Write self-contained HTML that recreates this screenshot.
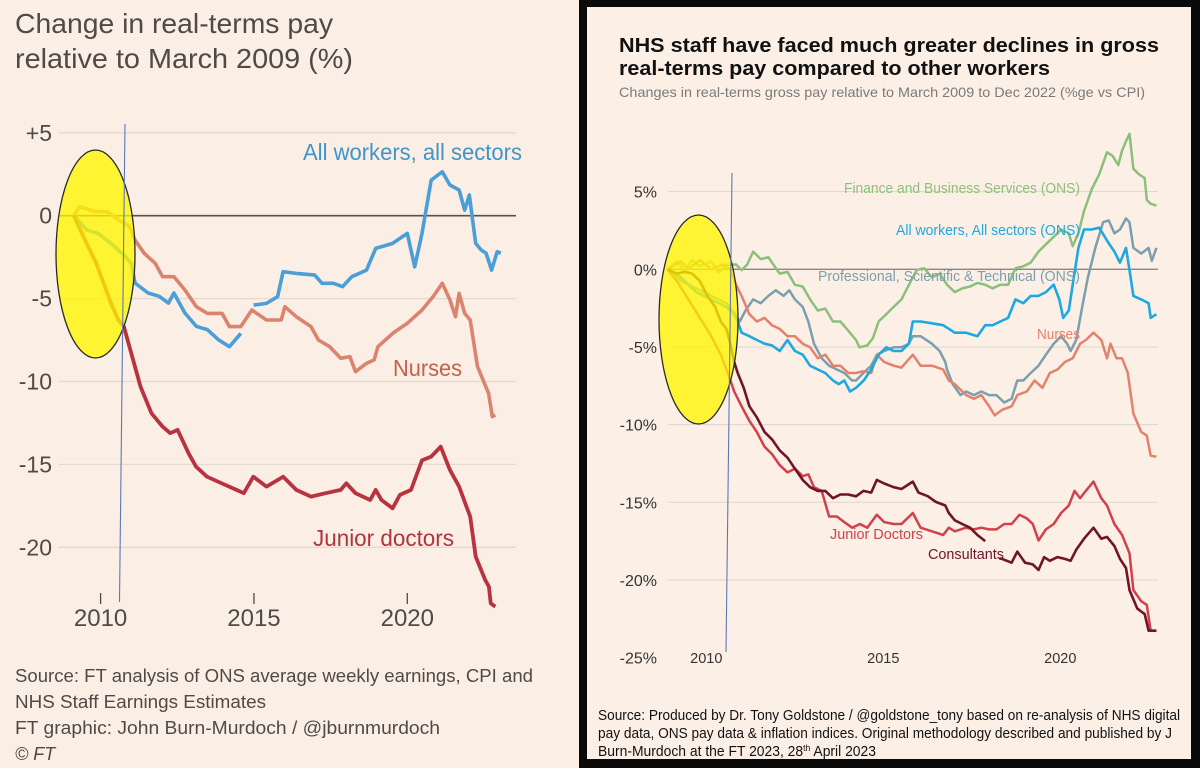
<!DOCTYPE html>
<html><head><meta charset="utf-8"><style>html,body{margin:0;padding:0;background:#fbefe5}svg{display:block}</style></head>
<body>
<svg id="svg" width="1200" height="768" viewBox="0 0 1200 768" xmlns="http://www.w3.org/2000/svg">
<rect x="0" y="0" width="580" height="768" fill="#fbefe5"/>
<rect x="579" y="0" width="621" height="768" fill="#0a0a0a"/>
<rect x="587" y="7" width="604" height="752" fill="#fcf0e6"/>
<g font-family="'Liberation Sans', sans-serif" fill="#4f4a47">
<text x="15" y="33" font-size="28" textLength="318" lengthAdjust="spacingAndGlyphs">Change in real-terms pay</text>
<text x="15" y="68" font-size="28" textLength="338" lengthAdjust="spacingAndGlyphs">relative to March 2009 (%)</text>
</g>
<g font-family="'Liberation Sans', sans-serif" fill="#111">
<text x="619" y="52" font-size="20" font-weight="bold" textLength="540" lengthAdjust="spacingAndGlyphs">NHS staff have faced much greater declines in gross</text>
<text x="619" y="75" font-size="20" font-weight="bold" textLength="431" lengthAdjust="spacingAndGlyphs">real-terms pay compared to other workers</text>
<text x="619" y="97" font-size="14" fill="#7a7a7a" font-weight="normal" textLength="526" lengthAdjust="spacingAndGlyphs">Changes in real-terms gross pay relative to March 2009 to Dec 2022 (%ge vs CPI)</text>
</g>
<g id="left"></g>
<g id="right"></g>
<g font-family="'Liberation Sans', sans-serif" fill="#4f4a47" font-size="18">
<text x="15" y="682" textLength="518" lengthAdjust="spacingAndGlyphs">Source: FT analysis of ONS average weekly earnings, CPI and</text>
<text x="15" y="708" textLength="251" lengthAdjust="spacingAndGlyphs">NHS Staff Earnings Estimates</text>
<text x="15" y="734" textLength="425" lengthAdjust="spacingAndGlyphs">FT graphic: John Burn-Murdoch / @jburnmurdoch</text>
<text x="15" y="760" font-style="italic">© FT</text>
</g>
<g font-family="'Liberation Sans', sans-serif" fill="#111" font-size="14.5">
<text x="598" y="720" textLength="582" lengthAdjust="spacingAndGlyphs">Source: Produced by Dr. Tony Goldstone / @goldstone_tony based on re-analysis of NHS digital</text>
<text x="598" y="738" textLength="574" lengthAdjust="spacingAndGlyphs">pay data, ONS pay data &amp; inflation indices. Original methodology described and published by J</text>
<text x="598" y="756" textLength="278" lengthAdjust="spacingAndGlyphs">Burn-Murdoch at the FT 2023, 28<tspan font-size="9" dy="-5">th</tspan><tspan dy="5"> April 2023</tspan></text>
</g>
</svg>
<script>
// ---------- LEFT CHART DATA (FT) ----------
const leftTicksY = [5, 0, -5, -10, -15, -20];
const leftTickLabelsY = ["+5", "0", "-5", "-10", "-15", "-20"];
const leftTicksX = [2010, 2015, 2020];
const leftAllYears = [2009.13,2009.55,2009.92,2010.34,2010.82,2011.0,2011.12,2011.55,2011.91,2012.21,2012.39,2012.75,2013.12,2013.48,2013.84,2014.2,2014.57,null,2014.99,2015.41,2015.77,2015.95,2016.38,2016.98,2017.22,2017.59,2017.89,2018.19,2018.67,2018.97,2019.52,2020.0,2020.24,2020.48,2020.78,2021.14,2021.39,2021.69,2021.87,2022.02,2022.23,2022.41,2022.57,2022.75,2022.93,2023.05];
const leftAllValues = [0,-0.86,-1.07,-1.67,-2.47,-2.87,-4.06,-4.66,-4.86,-5.27,-4.66,-5.87,-6.67,-6.87,-7.48,-7.9,-7.1,null,-5.39,-5.29,-4.88,-3.38,-3.48,-3.58,-4.08,-4.08,-4.28,-3.68,-3.28,-1.97,-1.67,-1.07,-3.08,-1.07,2.15,2.65,1.85,1.55,0.34,1.25,-1.67,-2.07,-2.27,-3.28,-2.17,-2.27];
const leftNurseYears = [2009.13,2009.31,2009.86,2010.22,2010.58,2010.94,2011.12,2011.42,2011.78,2012.02,2012.39,2012.75,2013.12,2013.48,2013.96,2014.2,2014.57,2014.93,2015.41,2015.89,2016.01,2016.38,2016.86,2017.1,2017.47,2017.83,2018.13,2018.31,2018.67,2018.92,2019.04,2019.52,2020.0,2020.48,2020.84,2021.14,2021.39,2021.57,2021.69,2021.87,2022.05,2022.29,2022.65,2022.77,2022.87];
const leftNurseValues = [0,0.54,0.24,0.24,-0.26,-0.66,-1.47,-2.27,-2.87,-3.68,-3.68,-4.48,-5.49,-5.89,-5.89,-6.69,-6.69,-5.69,-6.29,-6.29,-5.49,-6.09,-6.69,-7.5,-7.9,-8.6,-8.5,-9.41,-8.9,-8.7,-7.9,-7.1,-6.49,-5.69,-4.88,-4.08,-5.08,-6.09,-4.68,-5.89,-6.29,-9.1,-10.71,-12.12,-12.02];
const leftJdYears = [2009.13,2009.49,2009.86,2010.34,2010.58,2010.76,2011.06,2011.3,2011.66,2012.02,2012.27,2012.51,2012.87,2013.11,2013.47,2013.95,2014.43,2014.67,2014.98,2015.41,2015.95,2016.38,2016.86,2017.34,2017.83,2018.01,2018.31,2018.79,2018.97,2019.16,2019.52,2019.76,2020.12,2020.48,2020.78,2021.09,2021.39,2021.69,2021.93,2022.05,2022.23,2022.54,2022.66,2022.72,2022.87];
const leftJdValues = [0,-1.47,-2.87,-5.29,-6.29,-6.69,-8.7,-10.31,-11.92,-12.72,-13.12,-12.92,-14.33,-15.13,-15.74,-16.14,-16.54,-16.74,-15.74,-16.34,-15.74,-16.54,-16.94,-16.74,-16.54,-16.14,-16.74,-17.15,-16.54,-17.15,-17.65,-16.84,-16.54,-14.75,-14.53,-13.93,-15.33,-16.34,-17.55,-18.15,-20.56,-21.97,-22.37,-23.38,-23.58];

// ---------- RIGHT CHART DATA (Goldstone) ----------
const rightTicksY = [5, 0, -5, -10, -15, -20, -25];
const rightTickLabelsY = ["5%", "0%", "-5%", "-10%", "-15%", "-20%", "-25%"];
const rightTicksX = [2010, 2015, 2020];
const finYears = [2008.9,2009.17,2009.39,2009.6,2009.82,2010.14,2010.36,2010.57,2010.84,2011.0,2011.16,2011.33,2011.54,2011.76,2011.86,2012.08,2012.3,2012.51,2012.73,2012.94,2013.16,2013.37,2013.59,2013.8,2014.02,2014.24,2014.34,2014.56,2014.72,2014.88,2015.1,2015.31,2015.53,2015.74,2015.85,2015.96,2016.17,2016.39,2016.61,2016.82,2017.04,2017.25,2017.47,2017.68,2017.9,2018.11,2018.33,2018.55,2018.76,2018.98,2019.19,2019.41,2019.62,2019.84,2020.05,2020.27,2020.38,2020.54,2020.7,2020.92,2021.13,2021.35,2021.51,2021.67,2021.78,2021.89,2021.99,2022.1,2022.26,2022.42,2022.48,2022.59,2022.75];
const finValues = [0,0.5,-0.1,0.6,0.2,0.5,-0.2,0.3,0.31,-0.05,0.31,1.14,0.66,0.78,0.43,-0.28,-0.17,-1.0,-1.11,-1.94,-2.65,-2.53,-3.36,-3.36,-3.95,-4.55,-5.02,-4.9,-4.43,-3.36,-2.89,-2.42,-1.94,-1.0,-0.52,-0.05,0.07,-0.52,-0.28,-0.99,-1.47,-1.23,-1.11,-0.88,-0.99,-1.23,-0.99,-0.99,0.07,0.19,0.43,1.14,1.61,2.09,2.56,2.32,1.49,2.32,3.74,5.17,6.11,7.54,7.3,6.71,7.65,8.25,8.72,6.47,6.11,5.88,4.46,4.22,4.1];
const allYears = [2008.9,2009.28,2009.71,2010.14,2010.57,2010.79,2010.89,2011.0,2011.22,2011.43,2011.65,2011.86,2012.08,2012.3,2012.51,2012.73,2012.94,2013.16,2013.37,2013.59,2013.75,2013.91,2014.07,2014.24,2014.46,2014.67,2014.88,2015.1,2015.31,2015.53,2015.74,2015.85,2016.07,2016.39,2016.71,2017.04,2017.36,2017.68,2017.9,2018.11,2018.33,2018.55,2018.76,2018.98,2019.19,2019.41,2019.62,2019.84,2020.0,2020.11,2020.27,2020.38,2020.54,2020.7,2020.92,2021.13,2021.35,2021.56,2021.72,2021.89,2021.99,2022.1,2022.32,2022.53,2022.59,2022.75];
const allValues = [0,-0.52,-1.47,-1.94,-2.42,-2.89,-3.36,-4.08,-4.31,-4.55,-4.79,-4.9,-5.26,-4.55,-5.26,-5.5,-6.21,-6.45,-6.68,-7.16,-7.39,-7.16,-7.87,-7.63,-7.16,-6.45,-5.5,-5.02,-5.26,-5.26,-4.79,-3.36,-3.36,-3.48,-3.6,-4.08,-4.08,-4.31,-3.6,-3.6,-3.36,-3.13,-1.94,-2.18,-1.71,-1.71,-1.47,-0.99,-1.94,-3.13,-2.65,-0.99,1.38,2.56,2.56,2.68,1.85,1.14,0.43,1.38,-0.05,-1.71,-1.94,-2.18,-3.13,-2.89];
const pstYears = [2008.9,2009.28,2009.71,2010.14,2010.57,2010.79,2010.95,2011.11,2011.33,2011.54,2011.76,2011.97,2012.19,2012.35,2012.51,2012.73,2012.89,2013.05,2013.27,2013.48,2013.7,2013.91,2014.13,2014.24,2014.45,2014.67,2014.83,2015.04,2015.31,2015.53,2015.74,2015.85,2016.07,2016.39,2016.61,2016.77,2016.82,2016.98,2017.2,2017.36,2017.58,2017.79,2018.01,2018.22,2018.44,2018.65,2018.81,2018.98,2019.19,2019.41,2019.62,2019.84,2020.05,2020.22,2020.32,2020.48,2020.65,2020.81,2021.02,2021.24,2021.4,2021.56,2021.72,2021.89,2021.99,2022.1,2022.32,2022.53,2022.62,2022.75];
const pstValues = [0,-0.76,-1.23,-1.71,-2.18,-2.78,-3.36,-2.65,-1.94,-2.18,-1.71,-1.35,-1.71,-1.35,-1.94,-2.42,-3.36,-4.79,-5.73,-6.21,-6.45,-6.68,-7.16,-7.16,-6.68,-6.21,-5.5,-5.26,-5.02,-5.02,-4.79,-4.31,-4.31,-4.79,-5.26,-5.97,-6.45,-7.39,-8.1,-7.87,-8.1,-7.87,-8.1,-8.1,-8.58,-8.34,-7.16,-7.16,-6.68,-6.21,-5.5,-4.79,-4.31,-4.79,-5.26,-4.55,-2.42,-0.52,1.38,3.03,3.15,2.32,2.56,3.27,3.03,1.38,1.02,1.38,0.55,1.38];
const nurseYears = [2008.9,2009.28,2009.49,2009.82,2010.14,2010.46,2010.68,2010.84,2011.0,2011.22,2011.43,2011.65,2011.86,2012.08,2012.3,2012.51,2012.73,2012.94,2013.16,2013.37,2013.59,2013.8,2014.02,2014.24,2014.45,2014.67,2014.83,2015.04,2015.31,2015.53,2015.85,2016.07,2016.39,2016.71,2016.87,2017.04,2017.36,2017.58,2017.79,2018.01,2018.17,2018.38,2018.65,2018.81,2019.08,2019.3,2019.52,2019.73,2019.95,2020.16,2020.38,2020.59,2020.75,2020.97,2021.19,2021.35,2021.45,2021.62,2021.78,2021.94,2022.1,2022.32,2022.48,2022.59,2022.75];
const nurseValues = [0,0.5,0,0.6,0,0.3,0,-0.99,-1.71,-2.89,-3.36,-3.13,-3.6,-3.84,-4.31,-4.31,-4.79,-5.02,-5.73,-5.5,-6.21,-6.21,-6.68,-6.68,-6.56,-6.68,-5.5,-5.97,-6.21,-6.33,-5.5,-6.21,-6.21,-6.45,-7.16,-7.39,-8.1,-8.34,-8.1,-8.82,-9.41,-9.05,-8.82,-8.1,-7.87,-7.16,-7.63,-6.68,-6.45,-5.97,-5.73,-4.79,-4.55,-4.08,-4.55,-5.73,-4.79,-5.73,-5.73,-6.68,-9.29,-10.47,-10.71,-12.0,-12.07];
const jdYears = [2008.9,2009.17,2009.49,2009.82,2010.14,2010.41,2010.63,2010.79,2011.0,2011.22,2011.43,2011.65,2011.86,2012.08,2012.3,2012.51,2012.73,2012.89,2013.05,2013.27,2013.48,2013.7,2013.91,2014.13,2014.35,2014.56,2014.83,2015.04,2015.31,2015.53,2015.85,2016.07,2016.39,2016.71,2016.87,2017.04,2017.36,2017.58,2017.79,2018.01,2018.22,2018.44,2018.65,2018.87,2019.08,2019.25,2019.41,2019.62,2019.84,2020.05,2020.27,2020.43,2020.59,2020.75,2020.97,2021.19,2021.35,2021.56,2021.78,2021.99,2022.1,2022.32,2022.48,2022.59,2022.75];
const jdValues = [0,-0.76,-1.94,-3.13,-4.31,-5.5,-6.8,-7.87,-8.82,-9.76,-10.47,-11.42,-11.9,-12.61,-13.08,-12.84,-13.32,-13.2,-14.03,-14.27,-15.92,-15.92,-16.28,-16.64,-16.4,-16.64,-15.81,-16.28,-16.4,-16.4,-15.69,-16.64,-16.87,-17.11,-16.64,-16.87,-16.64,-16.75,-16.64,-16.75,-16.75,-16.4,-16.4,-15.81,-16.04,-16.4,-17.46,-16.75,-16.4,-15.69,-15.21,-14.27,-14.74,-14.27,-13.67,-14.74,-15.21,-16.4,-17.11,-18.29,-20.66,-21.37,-21.61,-23.27,-23.27];
const consYears = [2008.9,2009.17,2009.39,2009.6,2009.82,2010.03,2010.25,2010.41,2010.57,2010.68,2010.79,2010.89,2011.06,2011.22,2011.43,2011.65,2011.86,2012.08,2012.3,2012.51,2012.73,2012.94,2013.16,2013.37,2013.59,2013.8,2014.02,2014.24,2014.45,2014.67,2014.83,2015.04,2015.31,2015.53,2015.85,2016.01,2016.28,2016.5,2016.77,2016.87,2017.04,2017.25,2017.47,2017.68,2017.9,null,2018.3,2018.38,2018.65,2018.81,2019.03,2019.25,2019.41,2019.57,2019.73,2019.95,2020.16,2020.32,2020.48,2020.7,2020.97,2021.19,2021.35,2021.56,2021.72,2021.89,2021.99,2022.21,2022.42,2022.53,2022.75];
const consValues = [0,-0.28,-0.17,-0.28,-0.76,-1.71,-2.42,-3.36,-3.84,-4.79,-5.97,-6.68,-7.63,-8.82,-9.53,-10.47,-10.95,-11.66,-12.13,-12.84,-13.56,-14.03,-14.27,-14.27,-14.74,-14.5,-14.5,-14.62,-14.27,-14.38,-13.56,-13.79,-14.03,-14.15,-13.67,-14.38,-14.62,-14.98,-15.21,-15.69,-16.16,-16.4,-16.64,-17.11,-17.5,null,-18.6,-18.65,-18.89,-18.18,-18.89,-19.0,-19.36,-18.53,-18.77,-18.53,-18.65,-18.77,-18.06,-17.35,-16.64,-17.35,-17.23,-17.82,-18.65,-19.24,-20.66,-21.85,-22.2,-23.27,-23.27];

const NS = "http://www.w3.org/2000/svg";
function mk(parent, tag, attrs) {
  const e = document.createElementNS(NS, tag);
  for (const k in attrs) e.setAttribute(k, attrs[k]);
  parent.appendChild(e);
  return e;
}
// axis functions
const lx = t => 100.6 + (t - 2010) * 30.67;
const ly = v => 215.7 - v * 16.58;
const rx = t => 706.3 + (t - 2010) * 35.3;
const ry = v => 269.3 - v * 15.53;

function pathD(xs, vs, fx, fy) {
  let d = "", pen = false;
  for (let i = 0; i < xs.length; i++) {
    if (xs[i] === null || vs[i] === null) { pen = false; continue; }
    d += (pen ? "L" : "M") + fx(xs[i]).toFixed(1) + "," + fy(vs[i]).toFixed(1);
    pen = true;
  }
  return d;
}

// ---------- LEFT ----------
const L = document.getElementById("left");
leftTicksY.forEach((v, i) => {
  const g = mk(L, "line", {x1: 59, x2: 516, y1: ly(v), y2: ly(v), stroke: v === 0 ? "#55504c" : "#e3d9cf", "stroke-width": v === 0 ? 1.6 : 1.3});
  
  
  const t = mk(L, "text", {x: 52, y: ly(v) + 8, "text-anchor": "end", "font-size": 23, fill: "#4f4a47", "font-family": "'Liberation Sans', sans-serif"});
  t.textContent = leftTickLabelsY[i];
  
  
});
leftTicksX.forEach(yr => {
  const tk = mk(L, "line", {x1: lx(yr), x2: lx(yr), y1: 593, y2: 604, stroke: "#4f4a47", "stroke-width": 1.3});
  
  
  const t = mk(L, "text", {x: lx(yr), y: 626, "text-anchor": "middle", "font-size": 24, fill: "#4f4a47", "font-family": "'Liberation Sans', sans-serif"});
  t.textContent = String(yr);
  
  
});
const lAll = mk(L, "path", {d: pathD(leftAllYears, leftAllValues, lx, ly), fill: "none", stroke: "#4a9fd6", "stroke-width": 3.6, "stroke-linejoin": "round"});


const lNur = mk(L, "path", {d: pathD(leftNurseYears, leftNurseValues, lx, ly), fill: "none", stroke: "#da8470", "stroke-width": 3.6, "stroke-linejoin": "round"});


const lJd = mk(L, "path", {d: pathD(leftJdYears, leftJdValues, lx, ly), fill: "none", stroke: "#b8323f", "stroke-width": 3.8, "stroke-linejoin": "round"});


[["All workers, all sectors", 303, 160, 219, "#3f94c9", "left-label-all-workers"],
 ["Nurses", 393, 376, 69, "#c4604c", "left-label-nurses"],
 ["Junior doctors", 313, 546, 141, "#b3323d", "left-label-junior-doctors"]].forEach(a => {
  const t = mk(L, "text", {x: a[1], y: a[2], "font-size": 23, fill: a[4], textLength: a[3], lengthAdjust: "spacingAndGlyphs", "font-family": "'Liberation Sans', sans-serif"});
  t.textContent = a[0];
  
  
});
const le = mk(L, "ellipse", {cx: 95.5, cy: 254, rx: 39.5, ry: 104, fill: "#fff500", "fill-opacity": 0.78, stroke: "#2a2a2a", "stroke-width": 1.3});


const lv = mk(L, "line", {x1: 125, y1: 124, x2: 119.5, y2: 602, stroke: "#5a78b8", "stroke-width": 1.1});



// ---------- RIGHT ----------
const R = document.getElementById("right");
rightTicksY.forEach((v, i) => {
  if (v !== -25) {
    const g = mk(R, "line", {x1: 668, x2: 1158, y1: ry(v), y2: ry(v), stroke: v === 0 ? "#8a8683" : "#dcd6d0", "stroke-width": v === 0 ? 1.4 : 1});
    
    
  }
  const t = mk(R, "text", {x: 657, y: ry(v) + 6, "text-anchor": "end", "font-size": 16, fill: "#333", "font-family": "'Liberation Sans', sans-serif"});
  t.textContent = rightTickLabelsY[i];
  
  
});
rightTicksX.forEach(yr => {
  const t = mk(R, "text", {x: rx(yr) + (yr - 2010) * 0.1, y: 663, "text-anchor": "middle", "font-size": 14.5, fill: "#333", "font-family": "'Liberation Sans', sans-serif"});
  t.textContent = String(yr);
  
  
});
function rline(xs, vs, col, name, w) {
  const p = mk(R, "path", {d: pathD(xs, vs, rx, ry), fill: "none", stroke: col, "stroke-width": w, "stroke-linejoin": "round"});
  
  
}
rline(finYears, finValues, "#8cc07a", "right-line-finance", 2.5);
rline(pstYears, pstValues, "#7b9fae", "right-line-professional", 2.5);
rline(nurseYears, nurseValues, "#e2826c", "right-line-nurses", 2.5);
rline(allYears, allValues, "#1ea8e2", "right-line-all-workers", 2.6);
rline(jdYears, jdValues, "#d2404d", "right-line-junior-doctors", 2.5);
rline(consYears, consValues, "#701428", "right-line-consultants", 2.6);
[["Finance and Business Services (ONS)", 844, 193, 236, "#8cc07a", "right-label-finance"],
 ["All workers, All sectors (ONS)", 896, 235, 184, "#1ea8e2", "right-label-all-workers"],
 ["Professional, Scientific & Technical (ONS)", 818, 281, 262, "#7b9fae", "right-label-professional"],
 ["Nurses", 1037, 339, 43, "#e2826c", "right-label-nurses"],
 ["Junior Doctors", 830, 539, 93, "#d2404d", "right-label-junior-doctors"],
 ["Consultants", 928, 559, 76, "#701428", "right-label-consultants"]].forEach(a => {
  const t = mk(R, "text", {x: a[1], y: a[2], "font-size": 15, fill: a[4], textLength: a[3], lengthAdjust: "spacingAndGlyphs", "font-family": "'Liberation Sans', sans-serif"});
  t.textContent = a[0];
  
  
});
const re = mk(R, "ellipse", {cx: 698.5, cy: 319.5, rx: 39.5, ry: 104.5, fill: "#fff500", "fill-opacity": 0.78, stroke: "#2a2a2a", "stroke-width": 1.3});


const rv = mk(R, "line", {x1: 732, y1: 173, x2: 726, y2: 652, stroke: "#5a78b8", "stroke-width": 1.1});


</script>
</body></html>
